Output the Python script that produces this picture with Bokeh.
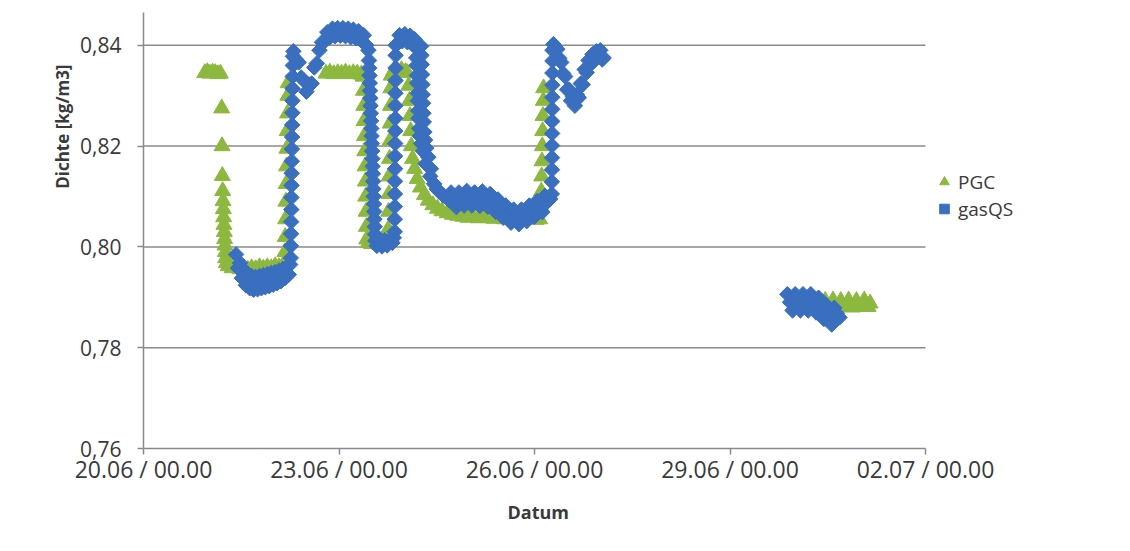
from bokeh.plotting import figure
from bokeh.models import (ColumnDataSource, FixedTicker, Legend, LegendItem, Title,
                          Range1d)
from bokeh.embed import file_html
from bokeh.resources import INLINE
import numpy as np

# ---------------- data (days since 20.06 00:00, density kg/m3) ----------------
tick_days = [0, 3, 6, 9, 12]
tick_labels = ["20.06 / 00.00", "23.06 / 00.00", "26.06 / 00.00", "29.06 / 00.00", "02.07 / 00.00"]
y_ticks = [0.76, 0.78, 0.80, 0.82, 0.84]
y_labels = ["0,76", "0,78", "0,80", "0,82", "0,84"]

pgc_day = [
    0.94, 0.98, 1.02, 1.06, 1.10, 1.14, 1.18,
    1.20, 1.205, 1.21, 1.215, 1.22, 1.225, 1.23, 1.235, 1.24, 1.245, 1.25, 1.255, 1.26, 1.27,
    1.30, 1.36, 1.42, 1.48, 1.54, 1.60, 1.66, 1.72, 1.78, 1.84, 1.90, 1.96, 2.02, 2.08, 2.14,
    2.17, 2.175, 2.18, 2.185, 2.19, 2.195, 2.20, 2.205, 2.21, 2.215, 2.22,
    2.80, 2.86, 2.92, 2.98, 3.04, 3.10, 3.16, 3.22, 3.28, 3.34, 3.37,
    3.375, 3.38, 3.385, 3.39, 3.395, 3.40, 3.405, 3.41, 3.415, 3.42, 3.425,
    3.45, 3.50, 3.56, 3.62, 3.68, 3.73,
    3.755, 3.76, 3.765, 3.77, 3.775, 3.78, 3.785, 3.79, 3.795, 3.80,
    3.84, 3.90, 3.96, 4.02, 4.05,
    4.07, 4.08, 4.09, 4.10, 4.11, 4.13, 4.16, 4.20, 4.25, 4.31, 4.37, 4.44, 4.51, 4.58, 4.66, 4.74,
    4.82, 4.90, 4.98, 5.06, 5.14, 5.22, 5.30, 5.38, 5.46, 5.54, 5.62, 5.70, 5.78, 5.86, 5.94, 6.02, 6.08,
    6.10, 6.105, 6.11, 6.115, 6.12, 6.125, 6.13, 6.135, 6.14,
    9.98, 10.04, 10.10, 10.16, 10.22, 10.28, 10.34, 10.40, 10.46, 10.52, 10.58, 10.64,
    10.70, 10.76, 10.82, 10.88, 10.94, 11.00, 11.06, 11.12, 11.15,
]
pgc_val = [
    0.8345, 0.8347, 0.8344, 0.8346, 0.8345, 0.8343, 0.8344,
    0.8275, 0.8200, 0.8141, 0.8111, 0.8091, 0.8075, 0.8059, 0.8044, 0.8030, 0.8016, 0.8003, 0.7990, 0.7978, 0.7968,
    0.7962, 0.7958, 0.7960, 0.7956, 0.7958, 0.7955, 0.7958, 0.7956, 0.7960, 0.7957, 0.7960, 0.7958, 0.7962, 0.7960, 0.7964,
    0.7990, 0.8020, 0.8055, 0.8090, 0.8125, 0.8160, 0.8195, 0.8230, 0.8265, 0.8300, 0.8325,
    0.8344, 0.8346, 0.8343, 0.8345, 0.8344, 0.8346, 0.8343, 0.8345, 0.8344, 0.8342, 0.8338,
    0.8310, 0.8280, 0.8250, 0.8220, 0.8190, 0.8160, 0.8130, 0.8100, 0.8070, 0.8040, 0.8015,
    0.8008, 0.8006, 0.8009, 0.8005, 0.8008, 0.8010,
    0.8035, 0.8070, 0.8105, 0.8140, 0.8175, 0.8210, 0.8245, 0.8280, 0.8315, 0.8340,
    0.8350, 0.8348, 0.8351, 0.8347, 0.8345,
    0.8320, 0.8290, 0.8260, 0.8230, 0.8200, 0.8175, 0.8155, 0.8135, 0.8118, 0.8103, 0.8092, 0.8083, 0.8076, 0.8071, 0.8067, 0.8064,
    0.8062, 0.8060, 0.8058, 0.8060, 0.8057, 0.8059, 0.8058, 0.8056, 0.8058, 0.8055, 0.8057, 0.8055, 0.8056, 0.8054, 0.8056, 0.8054, 0.8055,
    0.8080, 0.8110, 0.8140, 0.8170, 0.8200, 0.8230, 0.8260, 0.8290, 0.8315,
    0.7893, 0.7881, 0.7894, 0.7880, 0.7893, 0.7882, 0.7894, 0.7880, 0.7893, 0.7881, 0.7894, 0.7880,
    0.7893, 0.7881, 0.7894, 0.7880, 0.7893, 0.7882, 0.7894, 0.7881, 0.7888,
]

gas_day = [
    1.42, 1.45, 1.48, 1.51, 1.54, 1.57, 1.60, 1.63, 1.66, 1.69, 1.72, 1.75, 1.78, 1.81, 1.84, 1.87,
    1.90, 1.93, 1.96, 1.99, 2.02, 2.05, 2.08, 2.11, 2.14, 2.17, 2.20, 2.23, 2.25,
    2.260, 2.262, 2.264, 2.266, 2.268, 2.270, 2.272, 2.274, 2.276, 2.278, 2.280, 2.282, 2.284,
    2.286, 2.288, 2.290, 2.292, 2.294,
    2.30, 2.34, 2.38, 2.42, 2.46, 2.50, 2.54, 2.58, 2.62, 2.66, 2.70, 2.74, 2.78, 2.82, 2.86,
    2.90, 2.94, 2.98, 3.02, 3.06, 3.10, 3.14, 3.18, 3.22, 3.26, 3.30, 3.34, 3.38, 3.42, 3.45,
    3.460, 3.464, 3.468, 3.472, 3.476, 3.480, 3.484, 3.488, 3.492, 3.496, 3.500, 3.504, 3.508,
    3.512, 3.516, 3.520, 3.524, 3.528, 3.532, 3.536, 3.540, 3.544, 3.548, 3.552, 3.556,
    3.58, 3.62, 3.66, 3.70, 3.74, 3.78, 3.82, 3.84,
    3.855, 3.856, 3.857, 3.858, 3.859, 3.860, 3.861, 3.862, 3.863, 3.864, 3.865, 3.866, 3.867,
    3.868, 3.869, 3.870,
    3.89, 3.93, 3.97, 4.01, 4.05, 4.09, 4.13, 4.16,
    4.18, 4.26, 4.185, 4.265, 4.19, 4.27, 4.195, 4.275, 4.20, 4.28, 4.205, 4.285, 4.21, 4.29,
    4.215, 4.295, 4.22, 4.30, 4.23, 4.31, 4.24, 4.32, 4.26, 4.34, 4.29, 4.37, 4.33, 4.41,
    4.40, 4.46, 4.50, 4.55, 4.60, 4.65, 4.68,
    4.72, 4.76, 4.80, 4.84, 4.88, 4.92, 4.96, 5.00, 5.04, 5.08, 5.12, 5.16, 5.20, 5.24, 5.28,
    5.32, 5.36, 5.40, 5.44, 5.48, 5.52, 5.56, 5.60, 5.64, 5.68, 5.72, 5.76, 5.80, 5.84, 5.88,
    5.92, 5.96, 6.00, 6.04, 6.08, 6.12, 6.16, 6.20, 6.24,
    6.265, 6.266, 6.267, 6.268, 6.269, 6.270, 6.271, 6.272, 6.273, 6.274, 6.275, 6.276, 6.277,
    6.29, 6.32, 6.35, 6.38, 6.41, 6.44, 6.47, 6.50, 6.53, 6.56, 6.59, 6.62, 6.65, 6.68, 6.71,
    6.74, 6.77, 6.80, 6.83, 6.86, 6.89, 6.92, 6.95, 6.98, 7.01, 7.04, 7.06,
    9.88, 9.92, 9.96, 10.00, 10.04, 10.08, 10.12, 10.16, 10.20, 10.24, 10.28, 10.32, 10.36,
    10.40, 10.44, 10.48, 10.52, 10.56, 10.60, 10.64, 10.68,
]
gas_val = [
    0.7985, 0.7958, 0.7968, 0.7938, 0.7955, 0.7924, 0.7946, 0.7918, 0.7942, 0.7915, 0.7940, 0.7916, 0.7942, 0.7918, 0.7944, 0.7920,
    0.7946, 0.7922, 0.7948, 0.7925, 0.7950, 0.7928, 0.7953, 0.7932, 0.7956, 0.7938, 0.7960, 0.7945, 0.7965,
    0.7978, 0.8002, 0.8026, 0.8050, 0.8074, 0.8098, 0.8122, 0.8146, 0.8170, 0.8194, 0.8218, 0.8242, 0.8266,
    0.8290, 0.8314, 0.8338, 0.8360, 0.8378,
    0.8388, 0.8372, 0.8366, 0.8336, 0.8330, 0.8308, 0.8322, 0.8324, 0.8356, 0.8364, 0.8390, 0.8406, 0.8408, 0.8426, 0.8416,
    0.8433, 0.8418, 0.8434, 0.8419, 0.8434, 0.8418, 0.8433, 0.8416, 0.8431, 0.8414, 0.8428, 0.8410, 0.8420, 0.8400, 0.8390,
    0.8370, 0.8355, 0.8340, 0.8325, 0.8310, 0.8295, 0.8280, 0.8265, 0.8250, 0.8235, 0.8220, 0.8205, 0.8190,
    0.8175, 0.8160, 0.8145, 0.8130, 0.8115, 0.8100, 0.8085, 0.8070, 0.8055, 0.8040, 0.8025, 0.8012,
    0.8002, 0.8012, 0.8001, 0.8013, 0.8003, 0.8014, 0.8008, 0.8018,
    0.8030, 0.8055, 0.8080, 0.8105, 0.8130, 0.8155, 0.8180, 0.8205, 0.8230, 0.8255, 0.8280, 0.8305, 0.8330,
    0.8355, 0.8380, 0.8400,
    0.8402, 0.8420, 0.8408, 0.8422, 0.8406, 0.8419, 0.8402, 0.8412,
    0.8395, 0.8398, 0.8375, 0.8380, 0.8360, 0.8362, 0.8340, 0.8342, 0.8325, 0.8322, 0.8305, 0.8302, 0.8290, 0.8285,
    0.8270, 0.8265, 0.8255, 0.8248, 0.8235, 0.8228, 0.8220, 0.8212, 0.8205, 0.8196, 0.8190, 0.8178, 0.8165, 0.8155,
    0.8140, 0.8125, 0.8115, 0.8108, 0.8102, 0.8098, 0.8094,
    0.8108, 0.8094, 0.8079, 0.8108, 0.8095, 0.8082, 0.8111, 0.8097, 0.8082, 0.8108, 0.8094, 0.8081, 0.8110, 0.8096, 0.8080,
    0.8105, 0.8088, 0.8070, 0.8094, 0.8076, 0.8058, 0.8082, 0.8065, 0.8048, 0.8074, 0.8059, 0.8045, 0.8074, 0.8062, 0.8051,
    0.8082, 0.8071, 0.8060, 0.8091, 0.8080, 0.8069, 0.8101, 0.8090, 0.8095,
    0.8105, 0.8129, 0.8153, 0.8177, 0.8201, 0.8225, 0.8249, 0.8273, 0.8297, 0.8321, 0.8345, 0.8369, 0.8390,
    0.8402, 0.8396, 0.8392, 0.8374, 0.8366, 0.8344, 0.8338, 0.8312, 0.8312, 0.8290, 0.8298, 0.8280, 0.8302, 0.8296, 0.8324,
    0.8322, 0.8352, 0.8346, 0.8370, 0.8362, 0.8382, 0.8370, 0.8388, 0.8378, 0.8390, 0.8372, 0.8375,
    0.7906, 0.7890, 0.7874, 0.7906, 0.7890, 0.7874, 0.7906, 0.7890, 0.7874, 0.7906, 0.7890, 0.7870, 0.7899,
    0.7878, 0.7857, 0.7884, 0.7864, 0.7846, 0.7879, 0.7868, 0.7860,
]

GREEN = "#8DB83F"
BLUE = "#3A6FBF"
TXT = "#3a3a3a"
GRID = "#8a8a8a"
FONT = "Open Sans"

W, H = 1114, 535
LEFT, TOP, BOTTOM = 143, 12, 87
AXIS_END_PX = 925            # pixel where the x axis (12 days) ends
x_max = tick_days[-1] * (W - LEFT) / (AXIS_END_PX - LEFT)

p = figure(width=W, height=H, output_backend="svg", toolbar_location=None,
           x_range=Range1d(0, x_max), y_range=Range1d(0.76, 0.8465),
           min_border_left=LEFT, min_border_right=0, min_border_top=TOP,
           min_border_bottom=BOTTOM)
p.outline_line_color = None
p.background_fill_color = "white"
p.border_fill_color = "white"

# horizontal grid lines (stop at the end of the x axis)
grid_y = y_ticks[1:]
p.segment(x0=[tick_days[0]] * len(grid_y), x1=[tick_days[-1]] * len(grid_y),
          y0=grid_y, y1=grid_y, line_color=GRID, line_width=1.5)

src_pgc = ColumnDataSource(dict(x=pgc_day, y=pgc_val))
src_gas = ColumnDataSource(dict(x=gas_day, y=gas_val))

r_pgc = p.scatter("x", "y", source=src_pgc, marker="triangle", size=16,
                  fill_color=GREEN, line_color=GREEN)
r_gas = p.scatter("x", "y", source=src_gas, marker="square", angle=np.pi / 4, size=11,
                  fill_color=BLUE, line_color=BLUE)

# axes
p.xaxis.bounds = (tick_days[0], tick_days[-1])
p.xaxis.ticker = FixedTicker(ticks=tick_days)
p.xaxis.major_label_overrides = {d: l for d, l in zip(tick_days, tick_labels)}
p.yaxis.ticker = FixedTicker(ticks=y_ticks)
p.yaxis.major_label_overrides = {v: l for v, l in zip(y_ticks, y_labels)}
p.xaxis.minor_tick_line_color = None
p.yaxis.minor_tick_line_color = None
for ax in (p.xaxis, p.yaxis):
    ax.axis_line_color = GRID
    ax.axis_line_width = 1.5
    ax.major_tick_line_color = GRID
    ax.major_tick_line_width = 1.5
    ax.major_label_text_font = FONT
    ax.major_label_text_color = TXT
p.xaxis.major_label_text_font_size = "23px"
p.yaxis.major_label_text_font_size = "21px"
p.xaxis.major_tick_in = 0
p.xaxis.major_tick_out = 6
p.yaxis.major_tick_in = 0
p.yaxis.major_tick_out = 6
p.yaxis.major_label_standoff = 16
p.xaxis.major_label_standoff = -2
p.xgrid.grid_line_color = None
p.ygrid.grid_line_color = None

ytitle = Title(text="Dichte [kg/m3]", align="right", offset=52, standoff=8,
               text_font=FONT, text_font_style="bold", text_font_size="17px",
               text_color=TXT)
p.add_layout(ytitle, "left")

xtitle = Title(text="Datum", align="left", offset=364, standoff=20,
               text_font=FONT, text_font_style="bold", text_font_size="18px",
               text_color=TXT)
p.add_layout(xtitle, "below")

legend = Legend(items=[LegendItem(label="PGC", renderers=[r_pgc]),
                       LegendItem(label="gasQS", renderers=[r_gas])],
                location=(789, 226), label_text_font=FONT, label_text_font_size="19px",
                label_text_color=TXT, glyph_width=24, glyph_height=27, label_standoff=2,
                spacing=0, padding=0, margin=0, border_line_color=None,
                background_fill_alpha=0)
p.add_layout(legend, "center")

open("out.html", "w").write(file_html(p, INLINE))
